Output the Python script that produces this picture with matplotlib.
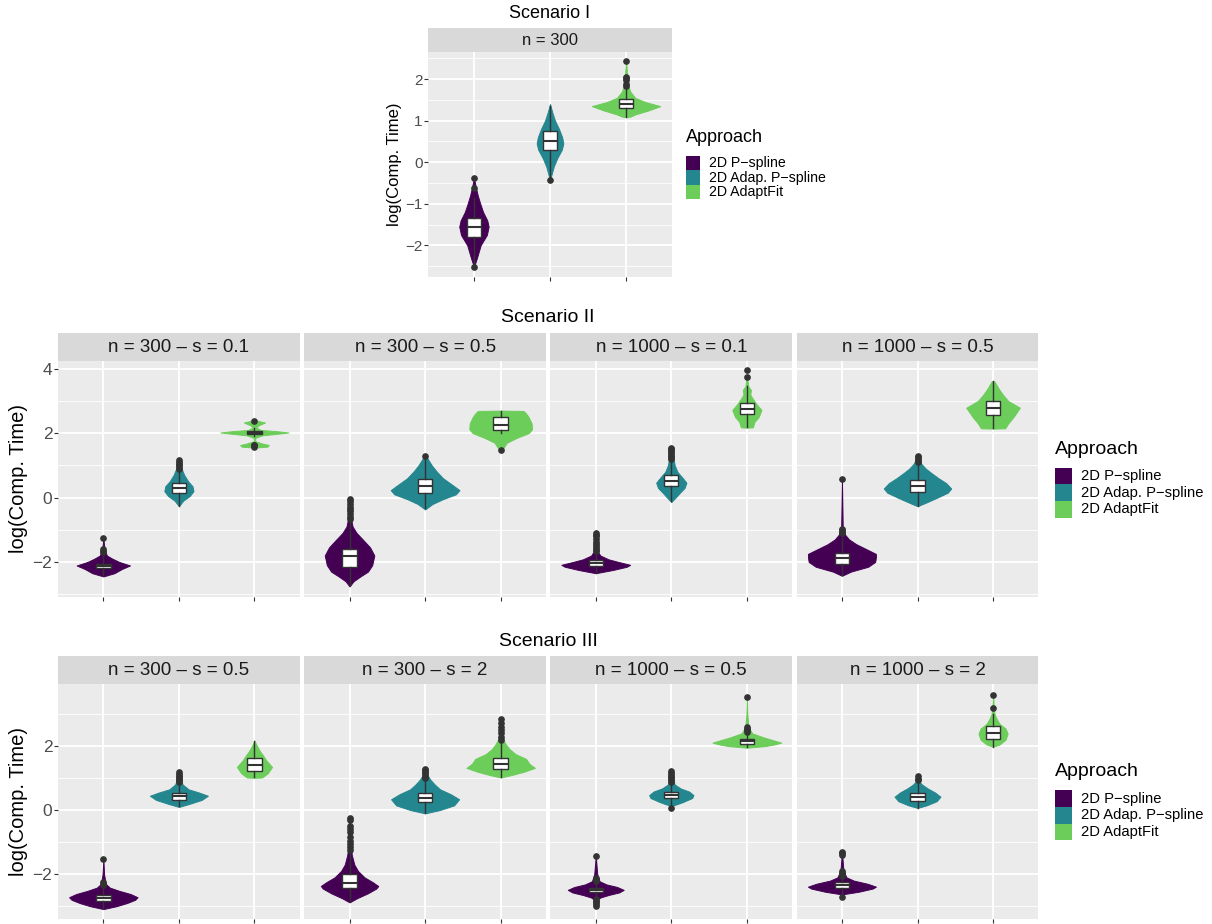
"""Violines + boxplots del tiempo de cómputo por enfoque y escenario."""

import numpy as np
import matplotlib

matplotlib.use("Agg")
import matplotlib.pyplot as plt
from matplotlib.patches import Rectangle

plt.rcParams["font.family"] = ["Liberation Sans", "DejaVu Sans"]

W, H = 1212, 924

approaches = ["2D P\u2212spline", "2D Adap. P\u2212spline", "2D AdaptFit"]
colors = ["#440154", "#24868E", "#6CCD5A"]

# ---------------- Escenario I (un panel) ----------------
s1_strips = ["n = 300"]
s1_vy = [[
    [-2.52, -2.3, -2.0, -1.75, -1.55, -1.4, -1.2, -1.0, -0.8, -0.6, -0.38],
    [-0.43, -0.3, -0.1, 0.1, 0.3, 0.45, 0.6, 0.8, 1.0, 1.2, 1.4],
    [1.08, 1.1, 1.15, 1.25, 1.35, 1.45, 1.55, 1.7, 1.9, 2.2, 2.44],
]]
s1_vw = [[
    [0, 0.04, 0.088, 0.17, 0.193, 0.175, 0.12, 0.083, 0.05, 0.024, 0],
    [0, 0.02, 0.05, 0.096, 0.155, 0.175, 0.16, 0.118, 0.066, 0.03, 0],
    [0, 0.06, 0.12, 0.30, 0.45, 0.25, 0.12, 0.055, 0.02, 0.01, 0],
]]
s1_q1 = [[-1.79, 0.30, 1.30]]
s1_med = [[-1.55, 0.52, 1.40]]
s1_q3 = [[-1.35, 0.75, 1.52]]
s1_lo = [[-2.45, -0.35, 1.08]]
s1_hi = [[-0.85, 1.35, 1.78]]
s1_fliers = [[[-2.53, -0.62, -0.38], [-0.44], [1.84, 1.88, 1.98, 2.02, 2.05, 2.44]]]

# ---------------- Escenario II ----------------
s2_strips = ["n = 300 \u2013 s = 0.1", "n = 300 \u2013 s = 0.5",
             "n = 1000 \u2013 s = 0.1", "n = 1000 \u2013 s = 0.5"]
s2_vy = [
    [[-2.45, -2.35, -2.22, -2.11, -2.0, -1.9, -1.8, -1.6, -1.27],
     [-0.27, -0.1, 0.05, 0.2, 0.35, 0.5, 0.7, 0.9, 1.18],
     [1.55, 1.58, 1.63, 1.68, 1.75, 1.85, 1.93, 1.98, 2.02, 2.06, 2.1, 2.18, 2.25, 2.33, 2.38, 2.42]],
    [[-2.76, -2.6, -2.45, -2.3, -2.1, -1.8, -1.55, -1.3, -1.1, -0.9, -0.6, -0.05],
     [-0.37, -0.2, -0.05, 0.1, 0.23, 0.4, 0.6, 0.8, 1.0, 1.2, 1.34],
     [1.44, 1.55, 1.7, 1.85, 2.0, 2.12, 2.3, 2.5, 2.63, 2.69, 2.7]],
    [[-2.35, -2.25, -2.15, -2.09, -2.0, -1.92, -1.8, -1.65, -1.4, -1.1],
     [-0.14, 0.0, 0.15, 0.3, 0.46, 0.6, 0.8, 1.0, 1.2, 1.4, 1.55],
     [2.17, 2.18, 2.35, 2.5, 2.72, 2.9, 3.1, 3.2, 3.34, 3.45, 3.6, 3.95]],
    [[-2.43, -2.3, -2.15, -2.0, -1.85, -1.75, -1.6, -1.45, -1.3, -1.15, -0.9, 0.0, 0.59],
     [-0.27, -0.15, 0.0, 0.15, 0.28, 0.45, 0.6, 0.75, 0.9, 1.05, 1.2, 1.35],
     [2.14, 2.15, 2.3, 2.5, 2.79, 3.0, 3.2, 3.4, 3.6, 3.62]],
]
s2_vw = [
    [[0, 0.146, 0.245, 0.353, 0.21, 0.12, 0.046, 0.015, 0],
     [0, 0.056, 0.144, 0.193, 0.18, 0.123, 0.07, 0.035, 0],
     [0, 0.17, 0.19, 0.1, 0.01, 0.01, 0.1, 0.3, 0.45, 0.3, 0.08, 0.02, 0.06, 0.14, 0.05, 0]],
    [[0, 0.053, 0.144, 0.244, 0.3, 0.328, 0.272, 0.174, 0.093, 0.04, 0.015, 0],
     [0, 0.098, 0.237, 0.407, 0.455, 0.356, 0.237, 0.156, 0.088, 0.035, 0],
     [0, 0.04, 0.08, 0.21, 0.37, 0.415, 0.41, 0.37, 0.33, 0.3, 0]],
    [[0, 0.227, 0.41, 0.455, 0.3, 0.17, 0.06, 0.02, 0.01, 0],
     [0, 0.057, 0.114, 0.176, 0.2, 0.153, 0.08, 0.045, 0.03, 0.015, 0],
     [0, 0.08, 0.1, 0.156, 0.193, 0.128, 0.07, 0.045, 0.054, 0.02, 0.01, 0]],
    [[0, 0.12, 0.347, 0.44, 0.45, 0.449, 0.32, 0.19, 0.094, 0.04, 0.01, 0.004, 0],
     [0, 0.12, 0.264, 0.4, 0.446, 0.378, 0.278, 0.19, 0.108, 0.05, 0.02, 0],
     [0, 0.16, 0.2, 0.27, 0.355, 0.2, 0.128, 0.07, 0.02, 0]],
]
s2_q1 = [[-2.19, 0.145, 1.96], [-2.16, 0.145, 2.11], [-2.13, 0.35, 2.61], [-2.05, 0.18, 2.56]]
s2_med = [[-2.13, 0.30, 2.0], [-1.83, 0.36, 2.26], [-2.03, 0.51, 2.76], [-1.87, 0.35, 2.79]]
s2_q3 = [[-2.05, 0.46, 2.06], [-1.59, 0.58, 2.5], [-1.94, 0.7, 2.93], [-1.71, 0.54, 3.0]]
s2_lo = [[-2.42, -0.25, 1.9], [-2.72, -0.33, 2.0], [-2.33, -0.12, 2.18], [-2.4, -0.25, 2.15]]
s2_hi = [[-1.82, 0.85, 2.15], [-0.75, 1.25, 2.7], [-1.7, 1.15, 3.45], [-1.2, 1.05, 3.62]]
s2_fliers = [
    [[-1.27, -1.6, -1.65, -1.7], [0.9, 0.95, 1.0, 1.05, 1.1, 1.16], [1.58, 1.62, 1.64, 2.38]],
    [[-0.05, -0.1, -0.2, -0.28, -0.35, -0.42, -0.5, -0.6, -0.68], [1.3], [1.48]],
    [[-1.1, -1.15, -1.2, -1.3, -1.38, -1.45, -1.52, -1.58, -1.62, -1.66],
     [1.2, 1.25, 1.3, 1.35, 1.4, 1.45, 1.5, 1.55], [3.74, 3.95]],
    [[0.59, -0.98, -1.02, -1.06, -1.1], [1.1, 1.15, 1.2, 1.25, 1.3], []],
]

# ---------------- Escenario III ----------------
s3_strips = ["n = 300 \u2013 s = 0.5", "n = 300 \u2013 s = 2",
             "n = 1000 \u2013 s = 0.5", "n = 1000 \u2013 s = 2"]
s3_vy = [
    [[-3.09, -3.0, -2.9, -2.8, -2.72, -2.62, -2.52, -2.42, -2.3, -2.0, -1.52],
     [0.1, 0.2, 0.32, 0.45, 0.55, 0.65, 0.8, 1.0, 1.19],
     [1.01, 1.02, 1.15, 1.35, 1.55, 1.7, 1.85, 2.0, 2.17]],
    [[-2.88, -2.75, -2.6, -2.45, -2.37, -2.25, -2.1, -1.9, -1.7, -1.4, -1.1, -0.24],
     [-0.1, 0.0, 0.15, 0.34, 0.5, 0.65, 0.8, 0.95, 1.1, 1.3],
     [1.02, 1.1, 1.2, 1.32, 1.45, 1.6, 1.75, 1.9, 2.05, 2.2, 2.5, 2.86]],
    [[-2.99, -2.8, -2.73, -2.65, -2.57, -2.49, -2.4, -2.32, -2.22, -2.0, -1.43],
     [0.07, 0.15, 0.25, 0.38, 0.47, 0.58, 0.68, 0.8, 1.0, 1.22],
     [1.95, 2.0, 2.06, 2.11, 2.18, 2.28, 2.4, 2.6, 3.0, 3.53]],
    [[-2.7, -2.62, -2.55, -2.45, -2.39, -2.3, -2.2, -2.1, -1.9, -1.3],
     [0.07, 0.15, 0.28, 0.42, 0.55, 0.68, 0.8, 0.9, 1.06],
     [1.98, 2.05, 2.2, 2.39, 2.55, 2.7, 2.85, 3.0, 3.19, 3.6]],
]
s3_vw = [
    [[0, 0.174, 0.314, 0.42, 0.453, 0.36, 0.21, 0.086, 0.03, 0.01, 0],
     [0, 0.144, 0.302, 0.384, 0.267, 0.128, 0.05, 0.02, 0],
     [0, 0.1, 0.174, 0.233, 0.158, 0.116, 0.07, 0.035, 0]],
    [[0, 0.1, 0.24, 0.353, 0.38, 0.307, 0.198, 0.112, 0.063, 0.03, 0.015, 0],
     [0, 0.19, 0.384, 0.45, 0.337, 0.198, 0.128, 0.07, 0.03, 0],
     [0, 0.15, 0.307, 0.453, 0.38, 0.337, 0.198, 0.12, 0.07, 0.035, 0.01, 0]],
    [[0, 0.02, 0.06, 0.17, 0.31, 0.37, 0.284, 0.142, 0.05, 0.02, 0],
     [0, 0.03, 0.15, 0.276, 0.293, 0.236, 0.122, 0.045, 0.02, 0],
     [0, 0.24, 0.38, 0.455, 0.355, 0.213, 0.07, 0.02, 0.006, 0]],
    [[0, 0.03, 0.219, 0.406, 0.45, 0.34, 0.156, 0.06, 0.02, 0],
     [0, 0.12, 0.253, 0.304, 0.233, 0.134, 0.06, 0.02, 0],
     [0, 0.085, 0.165, 0.193, 0.165, 0.085, 0.048, 0.02, 0.01, 0]],
]
s3_q1 = [[-2.85, 0.33, 1.23], [-2.42, 0.24, 1.28], [-2.56, 0.37, 2.07], [-2.43, 0.28, 2.22]]
s3_med = [[-2.75, 0.45, 1.4], [-2.27, 0.39, 1.44], [-2.49, 0.47, 2.15], [-2.35, 0.42, 2.42]]
s3_q3 = [[-2.66, 0.55, 1.62], [-2.0, 0.54, 1.62], [-2.42, 0.57, 2.22], [-2.25, 0.53, 2.62]]
s3_lo = [[-3.07, 0.12, 1.02], [-2.85, -0.08, 1.03], [-2.72, 0.15, 1.97], [-2.6, 0.08, 1.98]]
s3_hi = [[-2.4, 0.85, 2.15], [-1.35, 0.97, 2.1], [-2.25, 0.85, 2.42], [-2.1, 0.88, 3.0]]
s3_fliers = [
    [[-1.52, -2.25, -2.3, -2.34], [0.88, 0.93, 0.98, 1.03, 1.08, 1.13, 1.18], []],
    [[-0.24, -0.3, -0.5, -0.6, -0.68, -0.85, -0.95, -1.05, -1.15, -1.25],
     [1.0, 1.05, 1.1, 1.15, 1.2, 1.25, 1.3], [2.2, 2.3, 2.4, 2.5, 2.6, 2.72, 2.86]],
    [[-1.43, -2.12, -2.17, -2.2, -2.78, -2.83, -2.88, -2.93, -2.99],
     [0.07, 0.88, 0.95, 1.0, 1.05, 1.1, 1.17, 1.22], [2.45, 2.5, 2.55, 2.6, 3.53]],
    [[-2.7, -1.9, -1.95, -2.0, -2.05, -1.3, -1.35, -1.4], [0.93, 0.98, 1.06], [3.19, 3.6]],
]

PANEL_BG = "#EBEBEB"
STRIP_BG = "#D9D9D9"

fig = plt.figure(figsize=(W / 100, H / 100), dpi=100)


def px_axes(x0, x1, y0, y1):
    """Crea un eje a partir de coordenadas en píxeles (origen arriba a la izquierda)."""
    return fig.add_axes([x0 / W, 1 - y1 / H, (x1 - x0) / W, (y1 - y0) / H])


def draw_strip(x0, x1, y0, y1, label, fs):
    ax = px_axes(x0, x1, y0, y1)
    ax.set_facecolor(STRIP_BG)
    ax.set_xticks([])
    ax.set_yticks([])
    for sp in ax.spines.values():
        sp.set_visible(False)
    ax.text(0.5, 0.47, label, transform=ax.transAxes, ha="center", va="center",
            fontsize=fs, color="#1A1A1A")


def draw_panel(ax, vy, vw, q1, med, q3, lo, hi, fliers, ylim, major, minor,
               tick_fs, show_y):
    """Dibuja los tres violines con su boxplot en un panel."""
    ax.set_facecolor(PANEL_BG)
    for i in range(3):
        y = np.asarray(vy[i])
        w = np.asarray(vw[i])
        ax.fill_betweenx(y, i + 1 - w, i + 1 + w, facecolor=colors[i],
                         edgecolor=colors[i], linewidth=0.7, zorder=2)
    stats = [dict(med=med[i], q1=q1[i], q3=q3[i], whislo=lo[i], whishi=hi[i],
                  fliers=fliers[i]) for i in range(3)]
    ax.bxp(stats, positions=[1, 2, 3], widths=0.19, patch_artist=True,
           showcaps=False, manage_ticks=False, zorder=3,
           boxprops=dict(facecolor="white", edgecolor="#333333", linewidth=1.0),
           medianprops=dict(color="#333333", linewidth=1.5),
           whiskerprops=dict(color="#333333", linewidth=1.0),
           flierprops=dict(marker="o", markerfacecolor="#333333",
                           markeredgecolor="#333333", markersize=3.8))
    ax.set_xlim(0.4, 3.6)
    ax.set_ylim(*ylim)
    ax.set_xticks([1, 2, 3])
    ax.set_xticklabels([])
    ax.set_yticks(major)
    ax.set_yticks(minor, minor=True)
    ax.grid(which="major", color="white", linewidth=1.3, zorder=0)
    ax.grid(which="minor", axis="y", color="white", linewidth=0.6, zorder=0)
    ax.set_axisbelow(True)
    for sp in ax.spines.values():
        sp.set_visible(False)
    ax.tick_params(which="major", length=2.6, width=0.8, color="#333333",
                   labelcolor="#4D4D4D", labelsize=tick_fs, pad=1.5)
    ax.tick_params(which="minor", length=0)
    if not show_y:
        ax.tick_params(axis="y", left=False, labelleft=False)


def draw_legend(x, y_title, key_top, key_w, key_h, lab_x, fs_title, fs_lab):
    fig.text(x / W, 1 - y_title / H, "Approach", ha="left", va="center",
             fontsize=fs_title, color="black")
    for i, (lab, col) in enumerate(zip(approaches, colors)):
        top = key_top + i * key_h
        fig.add_artist(Rectangle((x / W, 1 - (top + key_h) / H), key_w / W, key_h / H,
                                 transform=fig.transFigure, facecolor=col,
                                 edgecolor="none"))
        fig.text(lab_x / W, 1 - (top + key_h / 2) / H, lab, ha="left", va="center",
                 fontsize=fs_lab, color="black")


# ---- Escenario I ----
fig.text(550 / W, 1 - 13.5 / H, "Scenario I", ha="center", va="center", fontsize=13)
draw_strip(428.3, 671.7, 28.3, 51.7, s1_strips[0], 12)
ax = px_axes(428.3, 671.7, 51.7, 277.3)
draw_panel(ax, s1_vy[0], s1_vw[0], s1_q1[0], s1_med[0], s1_q3[0], s1_lo[0], s1_hi[0],
           s1_fliers[0], (-2.77, 2.66), [-2, -1, 0, 1, 2],
           [-2.5, -1.5, -0.5, 0.5, 1.5, 2.5], 11, True)
fig.text(394 / W, 1 - 164.5 / H, "log(Comp. Time)", rotation=90, ha="center",
         va="center", fontsize=12)
draw_legend(686, 138, 156, 13.6, 14.4, 709.3, 13, 10.2)

# ---- Escenarios II y III ----
pw, gap = 241.8, 4.4
scenarios = [
    ("Scenario II", 317.5, (332.7, 360.7, 596.7), s2_strips, s2_vy, s2_vw, s2_q1, s2_med,
     s2_q3, s2_lo, s2_hi, s2_fliers, (-3.08, 4.25), [-2, 0, 2, 4], [-3, -1, 1, 3]),
    ("Scenario III", 641, (656.0, 683.7, 919.0), s3_strips, s3_vy, s3_vw, s3_q1, s3_med,
     s3_q3, s3_lo, s3_hi, s3_fliers, (-3.4, 3.95), [-2, 0, 2], [-3, -1, 1, 3]),
]
for (title, ty, (st, pt, pb), strips, vy, vw, q1, med, q3, lo, hi, fl,
     ylim, major, minor) in scenarios:
    fig.text(548 / W, 1 - ty / H, title, ha="center", va="center", fontsize=14)
    for k in range(4):
        x0 = 58 + k * (pw + gap)
        draw_strip(x0, x0 + pw, st, pt, strips[k], 13.5)
        ax = px_axes(x0, x0 + pw, pt, pb)
        draw_panel(ax, vy[k], vw[k], q1[k], med[k], q3[k], lo[k], hi[k], fl[k],
                   ylim, major, minor, 12.5, k == 0)
    fig.text(19 / W, 1 - (pt + pb) / 2 / H, "log(Comp. Time)", rotation=90,
             ha="center", va="center", fontsize=14.5)
    mid = (pt + pb) / 2
    draw_legend(1055, mid - 29.7, mid - 11, 16.7, 16.7, 1080.7, 14, 10.6)

fig.savefig("out.png", dpi=100)
